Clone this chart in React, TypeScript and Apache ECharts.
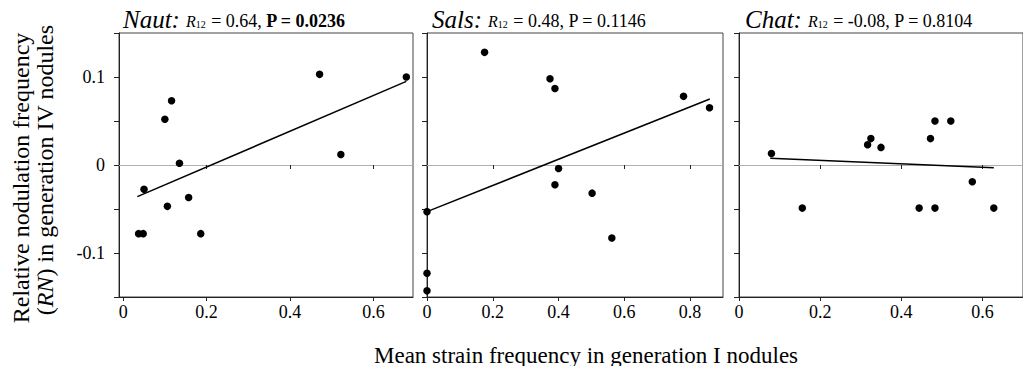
import React, { useEffect, useRef } from "react";
import * as echarts from "echarts";

const FONT = "Liberation Serif";

const nautX = [0.037, 0.048, 0.05, 0.1, 0.116, 0.135, 0.106, 0.157, 0.186, 0.471, 0.522, 0.679];
const nautY = [-0.078, -0.078, -0.0275, 0.052, 0.073, 0.002, -0.047, -0.037, -0.078, 0.103, 0.012, 0.1];
const nautFit = [[0.034, -0.036], [0.679, 0.095]];

const salsX = [0.175, 0.374, 0.389, 0.78, 0.859, 0.4, 0.389, 0.502, 0.562, 0, 0, 0];
const salsY = [0.128, 0.098, 0.087, 0.078, 0.065, -0.004, -0.0225, -0.032, -0.083, -0.053, -0.123, -0.143];
const salsFit = [[0, -0.053], [0.86, 0.075]];

const chatX = [0.08, 0.156, 0.317, 0.325, 0.35, 0.444, 0.472, 0.483, 0.483, 0.522, 0.575, 0.628];
const chatY = [0.013, -0.049, 0.023, 0.03, 0.02, -0.049, 0.03, 0.05, -0.049, 0.05, -0.019, -0.049];
const chatFit = [[0.077, 0.0076], [0.628, -0.003]];

const panelNames = ["Naut:", "Sals:", "Chat:"];
const panelR = ["0.64", "0.48", "-0.08"];
const panelP = ["0.0236", "0.1146", "0.8104"];
const panelPBold = [true, false, false];

const xTicks1 = [0, 0.2, 0.4, 0.6];
const xTicks2 = [0, 0.2, 0.4, 0.6, 0.8];
const xTicks3 = [0, 0.2, 0.4, 0.6];
const yLabelValues = [-0.1, 0, 0.1];

const xTitle = "Mean strain frequency in generation I nodules";
const yTitle1 = "Relative nodulation frequency";

const zip = (xs: number[], ys: number[]) => xs.map((x, i) => [x, ys[i]]);

export default function App() {
  const ref = useRef<HTMLDivElement>(null);
  useEffect(() => {
    if (!ref.current) return;
    const chart = echarts.init(ref.current, null, { renderer: "svg" });

    const grids = [
      { left: 119, top: 33, width: 294, height: 264 },
      { left: 427, top: 33, width: 296, height: 264 },
      { left: 739, top: 33, width: 294, height: 264 },
    ];
    const ranges = [
      [-0.01, 0.695],
      [0, 0.9],
      [0, 0.7],
    ];
    const ticks = [xTicks1, xTicks2, xTicks3];

    const bottomAxes = grids.map((_, i) => ({
      type: "value",
      gridIndex: i,
      position: "bottom",
      min: ranges[i][0],
      max: ranges[i][1],
      axisLine: { onZero: false, lineStyle: { color: "#222", width: 1 } },
      axisTick: { show: true, length: 4, lineStyle: { color: "#222" }, customValues: ticks[i] },
      axisLabel: {
        customValues: ticks[i],
        color: "#000",
        fontFamily: FONT,
        fontSize: 18,
        margin: 6,
        formatter: (v: number) => (Math.abs(v) < 1e-9 ? "0" : String(Math.round(v * 10) / 10)),
      },
      splitLine: { show: false },
    }));
    const zeroAxes = grids.map((_, i) => ({
      type: "value",
      gridIndex: i,
      position: "top",
      min: ranges[i][0],
      max: ranges[i][1],
      axisLine: { show: true, onZero: true, lineStyle: { color: "#b0b0b0", width: 1 } },
      axisTick: {
        show: true,
        inside: true,
        length: 4,
        lineStyle: { color: "#222" },
        customValues: ticks[i].filter((t) => t > 0),
      },
      axisLabel: { show: false },
      splitLine: { show: false },
    }));
    const yAxes = grids.map((_, i) => ({
      type: "value",
      gridIndex: i,
      min: -0.15,
      max: 0.15,
      interval: 0.05,
      axisLine: { show: true, onZero: false, lineStyle: { color: "#222", width: 1 } },
      axisTick: { show: true, length: 5, lineStyle: { color: "#222" } },
      axisLabel: {
        show: i === 0,
        color: "#000",
        fontFamily: FONT,
        fontSize: 18,
        margin: 14,
        formatter: (v: number) => {
          const k = Math.round(v * 100);
          const hit = yLabelValues.some((t) => Math.round(t * 100) === k);
          if (!hit) return "";
          return k === 0 ? "0" : String(k / 100);
        },
      },
      splitLine: { show: false },
    }));

    const pts = [zip(nautX, nautY), zip(salsX, salsY), zip(chatX, chatY)];
    const fits = [nautFit, salsFit, chatFit];
    const series: any[] = [];
    for (let i = 0; i < 3; i++) {
      series.push({
        type: "line",
        xAxisIndex: i,
        yAxisIndex: i,
        data: fits[i],
        symbol: "none",
        lineStyle: { color: "#000", width: 1.5 },
        clip: false,
        silent: true,
      });
      series.push({
        type: "scatter",
        xAxisIndex: i,
        yAxisIndex: i,
        data: pts[i],
        symbol: "circle",
        symbolSize: 7.5,
        itemStyle: { color: "#000", opacity: 1 },
        clip: false,
      });
    }

    const titleX = [123, 432, 745];
    const titles = titleX.map((x, i) => ({
      type: "text",
      x,
      y: 19,
      style: {
        text: `{t|${panelNames[i]}}{r|R}{s|12}{n| = ${panelR[i]}, }{${panelPBold[i] ? "b" : "n"}|P = ${panelP[i]}}`,
        verticalAlign: "middle",
        align: "left",
        rich: {
          t: { fontFamily: FONT, fontStyle: "italic", fontSize: 25, fill: "#000", lineHeight: 28 },
          r: { fontFamily: FONT, fontStyle: "italic", fontSize: 16, fill: "#000", lineHeight: 28, padding: [4, 0, 0, 6] },
          s: { fontFamily: FONT, fontSize: 10, fill: "#000", lineHeight: 28, padding: [10, 1, 0, 0] },
          n: { fontFamily: FONT, fontSize: 18, fill: "#000", lineHeight: 28, padding: [3, 0, 0, 0] },
          b: { fontFamily: FONT, fontSize: 18, fontWeight: "bold", fill: "#000", lineHeight: 28, padding: [3, 0, 0, 0] },
        },
      },
    }));

    chart.setOption({
      animation: false,
      textStyle: { fontFamily: FONT },
      grid: grids.map((g) => ({ ...g, show: true, borderColor: "#444", borderWidth: 1, containLabel: false })),
      xAxis: [...bottomAxes, ...zeroAxes],
      yAxis: yAxes,
      series,
      graphic: [
        ...titles,
        {
          type: "text",
          x: 586,
          y: 355,
          style: {
            text: xTitle,
            fontFamily: FONT,
            fontSize: 23,
            fill: "#000",
            align: "center",
            verticalAlign: "middle",
          },
        },
        {
          type: "text",
          x: 21,
          y: 178,
          rotation: Math.PI / 2,
          style: {
            text: yTitle1,
            fontFamily: FONT,
            fontSize: 24,
            fill: "#000",
            align: "center",
            verticalAlign: "middle",
          },
        },
        {
          type: "text",
          x: 45,
          y: 170,
          rotation: Math.PI / 2,
          style: {
            text: "{n|(}{i|RN}{n|) in generation IV nodules}",
            align: "center",
            verticalAlign: "middle",
            rich: {
              n: { fontFamily: FONT, fontSize: 24, fill: "#000" },
              i: { fontFamily: FONT, fontSize: 24, fontStyle: "italic", fill: "#000" },
            },
          },
        },
      ],
    });
    return () => chart.dispose();
  }, []);
  return (
    <div
      ref={ref}
      style={{ position: "fixed", left: 0, top: 0, width: 1023, height: 366, background: "#fff" }}
    />
  );
}
